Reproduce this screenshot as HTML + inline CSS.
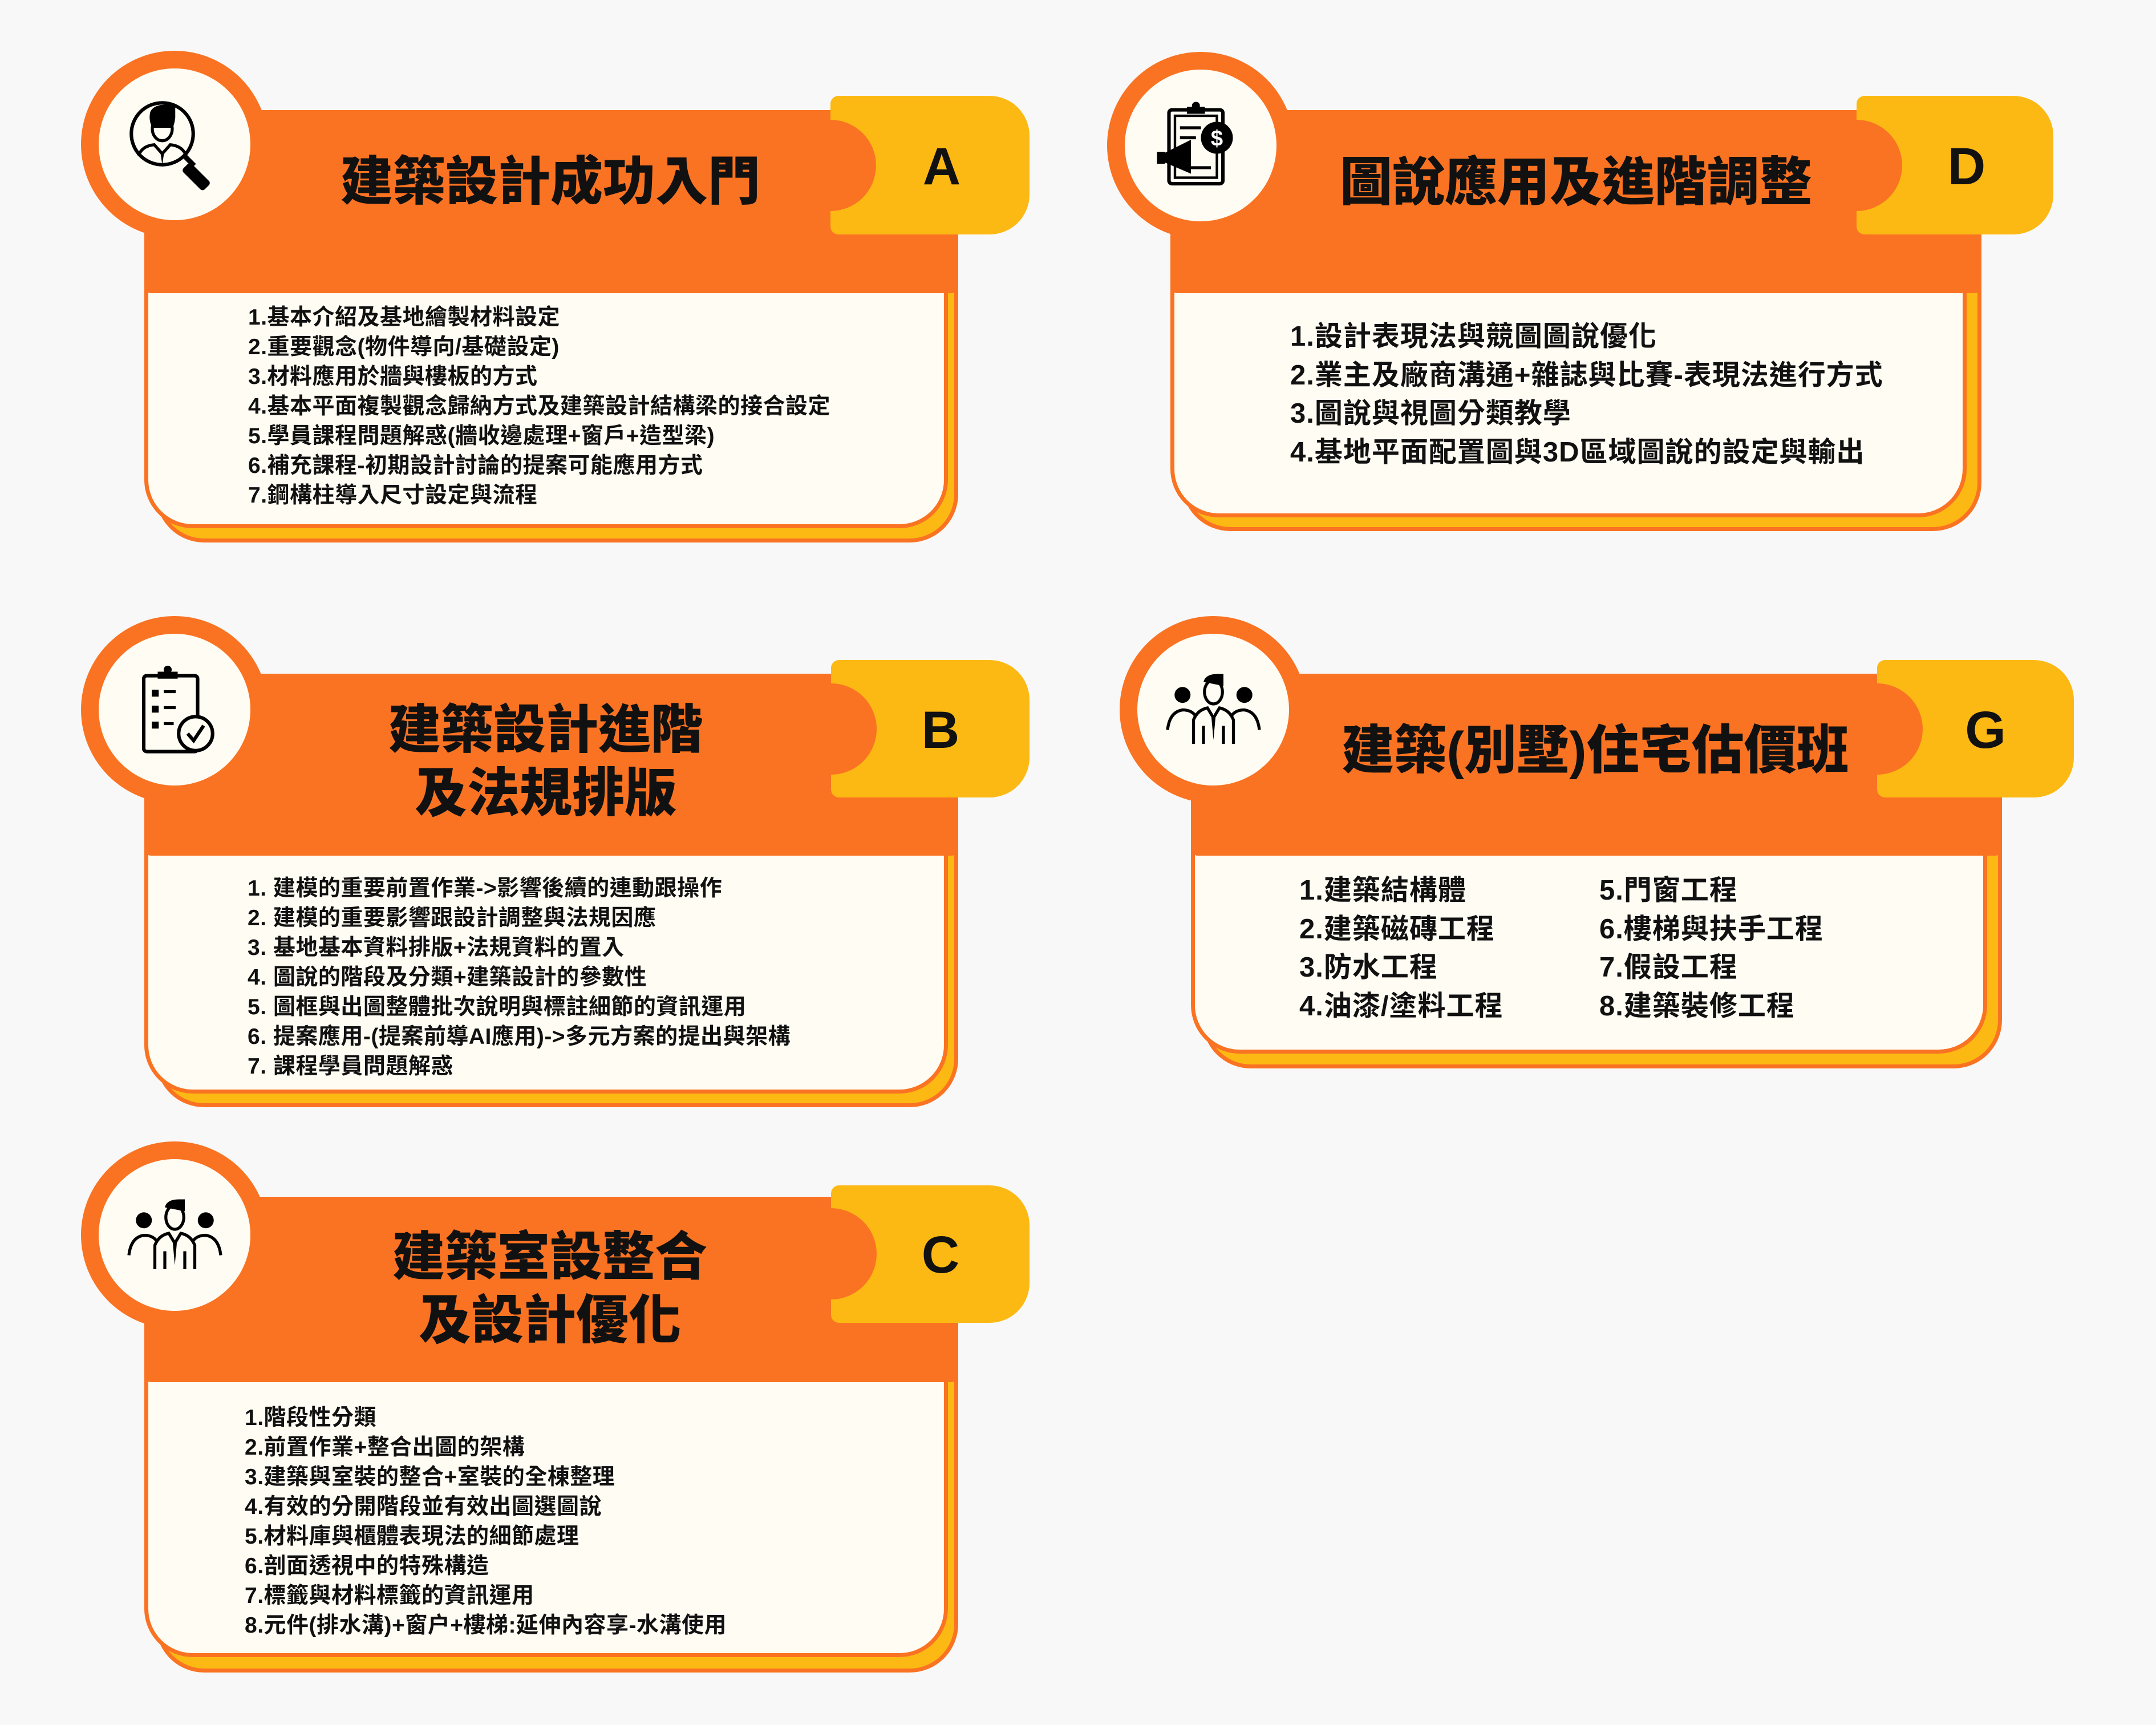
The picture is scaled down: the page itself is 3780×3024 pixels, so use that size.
<!DOCTYPE html>
<html><head><meta charset="utf-8">
<style>
*{box-sizing:border-box;margin:0;padding:0}
body{width:3780px;height:3024px;background:#f8f8f8;position:relative;overflow:hidden;font-family:"Liberation Sans","Noto Sans CJK TC",sans-serif}
.a{position:absolute}
.or{background:#fa7322}
.sh{background:#fdb913;border:7px solid #fa7322;border-radius:0 0 85px 85px}
.bd{background:#fffcf3;border:7px solid #fa7322;border-radius:0 0 85px 85px}
.band{background:#fa7322;border-radius:12px}
.circ{border-radius:50%}
.tab{background:#fdb913;border-radius:14px 70px 70px 14px}
.let{font:bold 92px "Liberation Sans",sans-serif;color:#111;text-align:center;width:200px}
.ttl{font-family:"Liberation Sans","Noto Sans CJK TC",sans-serif;font-weight:900;font-size:92px;line-height:111px;color:#111;text-align:center;white-space:nowrap}
.lst{font-family:"Liberation Sans","Noto Sans CJK TC",sans-serif;font-weight:700;color:#111;white-space:nowrap}
.s38{font-size:39px;line-height:52px;letter-spacing:0.5px}
.s46{font-size:49px;line-height:67.5px;letter-spacing:1px}
</style></head><body>

<!-- Card A -->
<div class="a sh" style="left:273px;top:494px;width:1407px;height:457px"></div>
<div class="a bd" style="left:253px;top:494px;width:1409px;height:432px"></div>
<div class="a band" style="left:253px;top:193px;width:1427px;height:321px"></div>
<div class="a tab" style="left:1456px;top:168px;width:349px;height:243px"></div>
<div class="a or circ" style="left:1376px;top:210px;width:160px;height:160px"></div>
<div class="a let" style="left:1551px;top:240px">A</div>
<div class="a or circ" style="left:142px;top:89px;width:328px;height:328px"></div>
<div class="a circ" style="left:173px;top:120px;width:266px;height:266px;background:#fffcf3"></div>
<svg class="a" style="left:218px;top:168px" width="175" height="175" viewBox="0 0 100 100">
<circle cx="38" cy="38" r="31" fill="none" stroke="#000" stroke-width="3.5"/>
<path d="M26 16 Q30 8 44 9 L51 9 L51 22 Q50 30 48 32 L28 32 Q24 24 26 16Z" fill="#000"/>
<ellipse cx="38" cy="33" rx="10" ry="12" fill="none" stroke="#000" stroke-width="3"/>
<path d="M14 60 Q18 50 30 49 L38 58 L46 49 Q58 50 62 60" fill="none" stroke="#000" stroke-width="3"/>
<path d="M36 56 L38 69 L40 56Z" fill="#000"/>
<line x1="60" y1="60" x2="70" y2="70" stroke="#000" stroke-width="5"/>
<rect x="66" y="66" width="12" height="30" rx="3" transform="rotate(-45 72 81)" fill="#000"/>
</svg>
<div class="a ttl" style="left:465px;top:264px;width:1000px">建築設計成功入門</div>
<div class="a lst s38" style="left:435px;top:531px">1.基本介紹及基地繪製材料設定<br>2.重要觀念(物件導向/基礎設定)<br>3.材料應用於牆與樓板的方式<br>4.基本平面複製觀念歸納方式及建築設計結構梁的接合設定<br>5.學員課程問題解惑(牆收邊處理+窗戶+造型梁)<br>6.補充課程-初期設計討論的提案可能應用方式<br>7.鋼構柱導入尺寸設定與流程</div>

<!-- Card D -->
<div class="a sh" style="left:2072px;top:494px;width:1402px;height:437px"></div>
<div class="a bd" style="left:2052px;top:494px;width:1396px;height:413px"></div>
<div class="a band" style="left:2052px;top:193px;width:1422px;height:321px"></div>
<div class="a tab" style="left:3255px;top:168px;width:345px;height:243px"></div>
<div class="a or circ" style="left:3175px;top:210px;width:160px;height:160px"></div>
<div class="a let" style="left:3348px;top:240px">D</div>
<div class="a or circ" style="left:1941px;top:91px;width:328px;height:328px"></div>
<div class="a circ" style="left:1972px;top:122px;width:266px;height:266px;background:#fffcf3"></div>
<svg class="a" style="left:2018px;top:168px" width="175" height="175" viewBox="0 0 100 100">
<rect x="18" y="14" width="54" height="74" rx="3" fill="none" stroke="#000" stroke-width="3.5"/>
<rect x="24" y="20" width="42" height="62" fill="none" stroke="#000" stroke-width="2.5"/>
<circle cx="45" cy="10" r="4" fill="#000"/><rect x="36" y="11" width="18" height="7" fill="#000"/>
<line x1="29" y1="32" x2="50" y2="32" stroke="#000" stroke-width="3"/>
<line x1="29" y1="42" x2="45" y2="42" stroke="#000" stroke-width="3"/>
<line x1="40" y1="72" x2="60" y2="72" stroke="#000" stroke-width="3"/>
<circle cx="66" cy="42" r="16" fill="#000"/>
<text x="66" y="50" font-size="22" font-weight="bold" fill="#fff" text-anchor="middle" font-family="Liberation Sans">$</text>
<path d="M12 58 L40 44 L40 78 L12 66Z" fill="#000"/><rect x="6" y="56" width="8" height="12" fill="#000"/>
</svg>
<div class="a ttl" style="left:2263px;top:265px;width:1000px">圖說應用及進階調整</div>
<div class="a lst s46" style="left:2262px;top:557px">1.設計表現法與競圖圖說優化<br>2.業主及廠商溝通+雜誌與比賽-表現法進行方式<br>3.圖說與視圖分類教學<br>4.基地平面配置圖與3D區域圖說的設定與輸出</div>

<!-- Card B -->
<div class="a sh" style="left:273px;top:1480px;width:1407px;height:461px"></div>
<div class="a bd" style="left:253px;top:1480px;width:1409px;height:437px"></div>
<div class="a band" style="left:253px;top:1181px;width:1427px;height:319px"></div>
<div class="a tab" style="left:1457px;top:1157px;width:348px;height:241px"></div>
<div class="a or circ" style="left:1377px;top:1198px;width:160px;height:160px"></div>
<div class="a let" style="left:1549px;top:1228px">B</div>
<div class="a or circ" style="left:142px;top:1080px;width:328px;height:328px"></div>
<div class="a circ" style="left:173px;top:1111px;width:266px;height:266px;background:#fffcf3"></div>
<svg class="a" style="left:224px;top:1160px" width="175" height="175" viewBox="0 0 100 100">
<rect x="16" y="14" width="54" height="76" rx="3" fill="none" stroke="#000" stroke-width="3.5"/>
<circle cx="40" cy="8" r="4" fill="#000"/><rect x="30" y="10" width="20" height="7" fill="#000"/>
<rect x="24" y="28" width="7" height="7" fill="#000"/><line x1="36" y1="30" x2="48" y2="30" stroke="#000" stroke-width="3"/>
<rect x="24" y="44" width="7" height="7" fill="#000"/><line x1="36" y1="46" x2="48" y2="46" stroke="#000" stroke-width="3"/>
<rect x="24" y="60" width="7" height="7" fill="#000"/><line x1="36" y1="62" x2="46" y2="62" stroke="#000" stroke-width="3"/>
<circle cx="68" cy="72" r="17" fill="#fffcf3" stroke="#000" stroke-width="3.5"/>
<path d="M60 72 L66 79 L76 64" fill="none" stroke="#000" stroke-width="3.5"/>
</svg>
<div class="a ttl" style="left:457px;top:1225px;width:1000px">建築設計進階<br>及法規排版</div>
<div class="a lst s38" style="left:434px;top:1532px">1. 建模的重要前置作業->影響後續的連動跟操作<br>2. 建模的重要影響跟設計調整與法規因應<br>3. 基地基本資料排版+法規資料的置入<br>4. 圖說的階段及分類+建築設計的參數性<br>5. 圖框與出圖整體批次說明與標註細節的資訊運用<br>6. 提案應用-(提案前導AI應用)->多元方案的提出與架構<br>7. 課程學員問題解惑</div>

<!-- Card G -->
<div class="a sh" style="left:2108px;top:1480px;width:1402px;height:393px"></div>
<div class="a bd" style="left:2088px;top:1480px;width:1396px;height:367px"></div>
<div class="a band" style="left:2088px;top:1181px;width:1422px;height:319px"></div>
<div class="a tab" style="left:3291px;top:1157px;width:345px;height:241px"></div>
<div class="a or circ" style="left:3211px;top:1198px;width:160px;height:160px"></div>
<div class="a let" style="left:3381px;top:1228px">G</div>
<div class="a or circ" style="left:1963px;top:1080px;width:328px;height:328px"></div>
<div class="a circ" style="left:1994px;top:1111px;width:266px;height:266px;background:#fffcf3"></div>
<svg class="a" style="left:2040px;top:1157px" width="175" height="175" viewBox="0 0 100 100">
<circle cx="19" cy="35" r="8" fill="#000"/><circle cx="81" cy="35" r="8" fill="#000"/>
<path d="M40 22 Q42 14 54 14 L60 14 L60 26 Z" fill="#000"/>
<ellipse cx="50" cy="32" rx="9" ry="12" fill="none" stroke="#000" stroke-width="3"/>
<path d="M4 70 Q6 52 19 50 Q28 50 32 56" fill="none" stroke="#000" stroke-width="3"/>
<path d="M96 70 Q94 52 81 50 Q72 50 68 56" fill="none" stroke="#000" stroke-width="3"/>
<path d="M30 84 L30 60 Q34 50 44 48 L50 58 L56 48 Q66 50 70 60 L70 84" fill="none" stroke="#000" stroke-width="3"/>
<path d="M48 58 L50 80 L52 58Z" fill="#000"/>
<line x1="40" y1="66" x2="40" y2="84" stroke="#000" stroke-width="3"/><line x1="60" y1="66" x2="60" y2="84" stroke="#000" stroke-width="3"/>
</svg>
<div class="a ttl" style="left:2297px;top:1261px;width:1000px">建築(別墅)住宅估價班</div>
<div class="a lst s46" style="left:2278px;top:1528px">1.建築結構體<br>2.建築磁磚工程<br>3.防水工程<br>4.油漆/塗料工程</div>
<div class="a lst s46" style="left:2804px;top:1528px">5.門窗工程<br>6.樓梯與扶手工程<br>7.假設工程<br>8.建築裝修工程</div>

<!-- Card C -->
<div class="a sh" style="left:273px;top:2403px;width:1407px;height:529px"></div>
<div class="a bd" style="left:253px;top:2403px;width:1409px;height:502px"></div>
<div class="a band" style="left:253px;top:2098px;width:1427px;height:325px"></div>
<div class="a tab" style="left:1457px;top:2078px;width:348px;height:241px"></div>
<div class="a or circ" style="left:1377px;top:2118px;width:160px;height:160px"></div>
<div class="a let" style="left:1549px;top:2148px">C</div>
<div class="a or circ" style="left:142px;top:2001px;width:328px;height:328px"></div>
<div class="a circ" style="left:173px;top:2032px;width:266px;height:266px;background:#fffcf3"></div>
<svg class="a" style="left:219px;top:2078px" width="175" height="175" viewBox="0 0 100 100">
<circle cx="19" cy="35" r="8" fill="#000"/><circle cx="81" cy="35" r="8" fill="#000"/>
<path d="M40 22 Q42 14 54 14 L60 14 L60 26 Z" fill="#000"/>
<ellipse cx="50" cy="32" rx="9" ry="12" fill="none" stroke="#000" stroke-width="3"/>
<path d="M4 70 Q6 52 19 50 Q28 50 32 56" fill="none" stroke="#000" stroke-width="3"/>
<path d="M96 70 Q94 52 81 50 Q72 50 68 56" fill="none" stroke="#000" stroke-width="3"/>
<path d="M30 84 L30 60 Q34 50 44 48 L50 58 L56 48 Q66 50 70 60 L70 84" fill="none" stroke="#000" stroke-width="3"/>
<path d="M48 58 L50 80 L52 58Z" fill="#000"/>
<line x1="40" y1="66" x2="40" y2="84" stroke="#000" stroke-width="3"/><line x1="60" y1="66" x2="60" y2="84" stroke="#000" stroke-width="3"/>
</svg>
<div class="a ttl" style="left:464px;top:2149px;width:1000px">建築室設整合<br>及設計優化</div>
<div class="a lst s38" style="left:429px;top:2460px;font-weight:600">1.階段性分類<br>2.前置作業+整合出圖的架構<br>3.建築與室裝的整合+室裝的全棟整理<br>4.有效的分開階段並有效出圖選圖說<br>5.材料庫與櫃體表現法的細節處理<br>6.剖面透視中的特殊構造<br>7.標籤與材料標籤的資訊運用<br>8.元件(排水溝)+窗户+樓梯:延伸內容享-水溝使用</div>

</body></html>
